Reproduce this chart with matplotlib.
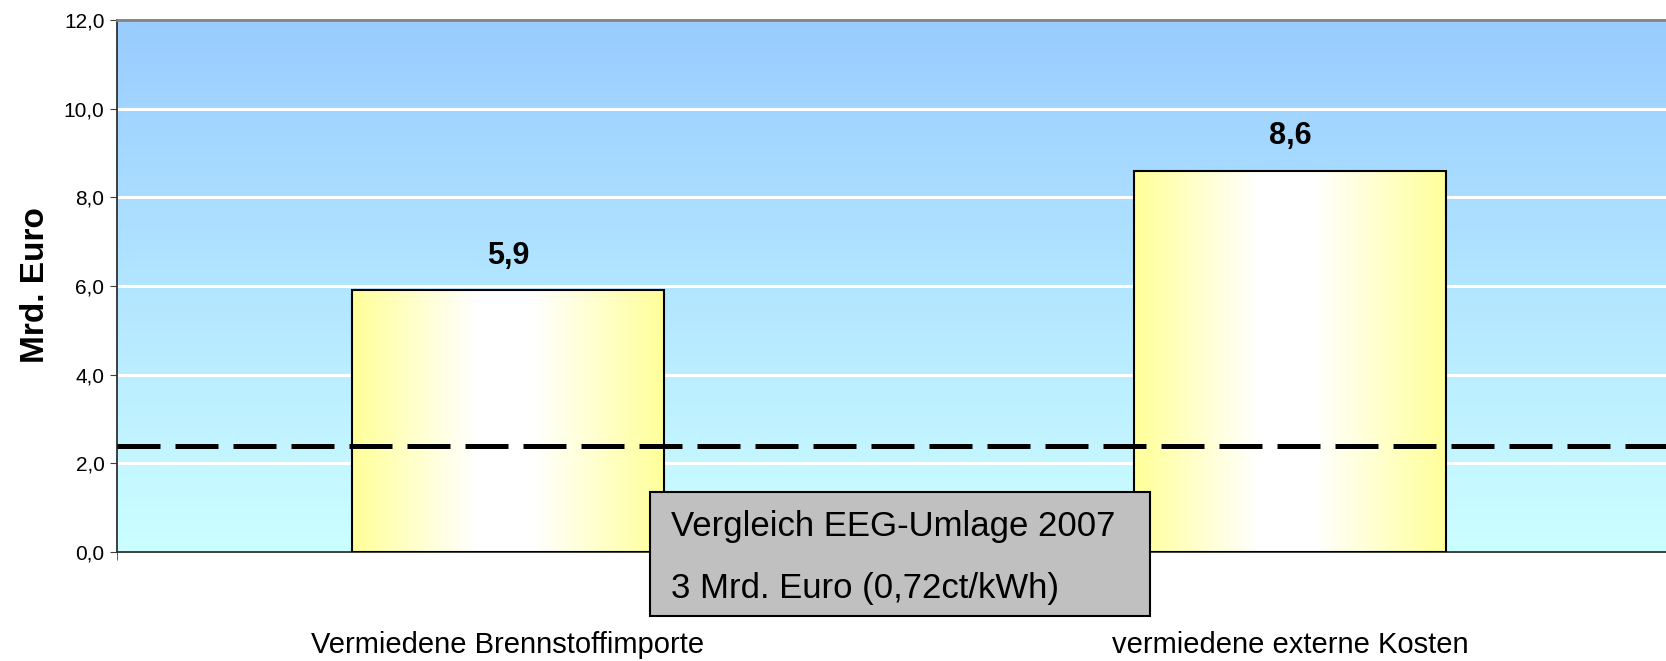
import numpy as np
import matplotlib
matplotlib.use('Agg')
import matplotlib.pyplot as plt
from matplotlib.patches import Rectangle
from matplotlib.colors import LinearSegmentedColormap
from matplotlib.ticker import FuncFormatter

# --- data ---
categories = ["Vermiedene Brennstoffimporte", "vermiedene externe Kosten"]
values = [5.9, 8.6]
value_labels = ["5,9", "8,6"]
eeg_level = 2.4
box_lines = ["Vergleich EEG-Umlage 2007", "3 Mrd. Euro (0,72ct/kWh)"]
y_ticks = [0, 2, 4, 6, 8, 10, 12]

plt.rcParams['font.family'] = ['Liberation Sans', 'DejaVu Sans']

fig = plt.figure(figsize=(16.66, 6.61), dpi=100)
ax = fig.add_axes([0.0702, 0.1649, 0.9388, 0.8048])
ax.set_xlim(-0.5, 1.5)
ax.set_ylim(0, 12)

# background gradient (light blue top -> pale cyan bottom)
bg_cmap = LinearSegmentedColormap.from_list("bg", ["#ccffff", "#99ccff"])
grad = np.linspace(0, 1, 256).reshape(-1, 1)
ax.imshow(grad, cmap=bg_cmap, origin='lower', aspect='auto',
          extent=(0, 1, 0, 1), transform=ax.transAxes, zorder=0)

# white grid lines
ax.set_yticks(y_ticks)
ax.yaxis.grid(True, color='white', linewidth=2.2)
ax.set_axisbelow(True)

# bars with horizontal yellow-white-yellow gradient
bar_cmap = LinearSegmentedColormap.from_list(
    "bar", [(0.0, "#ffff99"), (0.4, "#ffffff"), (0.58, "#ffffff"), (1.0, "#ffff99")])
hgrad = np.linspace(0, 1, 256).reshape(1, -1)
x = np.arange(len(categories))
bars = ax.bar(x, values, width=0.4, facecolor='none', edgecolor='black',
              linewidth=1.5, zorder=3)
for b in bars:
    im = ax.imshow(hgrad, cmap=bar_cmap, aspect='auto',
                   extent=(b.get_x(), b.get_x() + b.get_width(), 0, b.get_height()),
                   zorder=2)
    im.set_clip_path(b)

for xi, v, lab in zip(x, values, value_labels):
    ax.annotate(lab, (xi, v), xytext=(0, 25), textcoords='offset points',
                ha='center', va='center', fontsize=22, fontweight='bold')

# EEG comparison line
ax.axhline(eeg_level, color='black', linewidth=3.6, dashes=(8.6, 3.0), zorder=4)

# axes styling
ax.yaxis.set_major_formatter(FuncFormatter(lambda v, p: f"{v:.1f}".replace('.', ',')))
ax.tick_params(axis='y', labelsize=15, length=5, color='#404040', pad=4)
ax.set_xticks(x)
ax.set_xticklabels(categories)
ax.tick_params(axis='x', which='major', length=0, labelsize=21, pad=57)
ax.set_xticks([-0.5, 0.5, 1.5], minor=True)
ax.tick_params(axis='x', which='minor', length=6, color='#404040')
for s in ['left', 'bottom']:
    ax.spines[s].set_color('#303030')
    ax.spines[s].set_linewidth(1.3)
ax.spines['top'].set_color('#808080')
ax.spines['top'].set_linewidth(2)
ax.spines['right'].set_visible(False)

fig.text(0.0211, 0.569, "Mrd. Euro", rotation=90, ha='center', va='center',
         fontsize=24, fontweight='bold')

# comparison box
fig.patches.append(Rectangle((0.390, 0.068), 0.300, 0.188, transform=fig.transFigure,
                             facecolor='#c0c0c0', edgecolor='black', linewidth=1.5,
                             zorder=5))
fig.text(0.403, 0.203, box_lines[0], ha='left', va='center', fontsize=25, zorder=6)
fig.text(0.403, 0.110, box_lines[1], ha='left', va='center', fontsize=25, zorder=6)

fig.savefig("out.png", dpi=100)
